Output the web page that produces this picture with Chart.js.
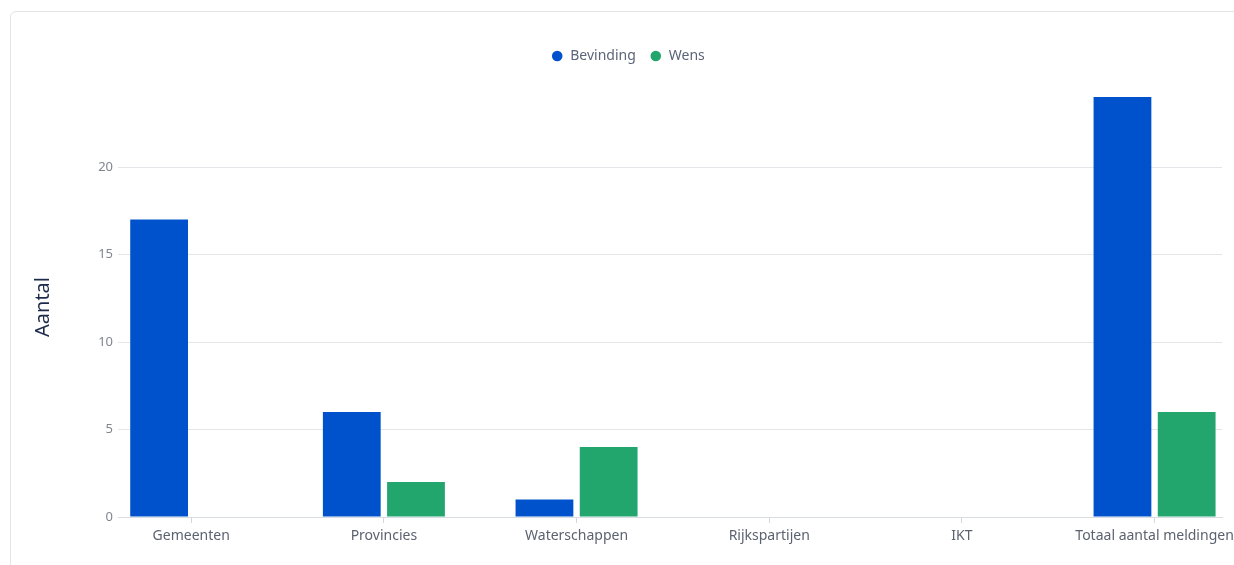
<!DOCTYPE html>
<html>
<head>
<meta charset="utf-8">
<script src="https://cdn.jsdelivr.net/npm/chart.js@4/dist/chart.umd.min.js"></script>
<style>
  html, body { margin: 0; padding: 0; background: #fff; overflow: hidden; width: 1234px; height: 565px; }
  .card { position: absolute; left: 10px; top: 11px; width: 1300px; height: 620px;
          border: 1px solid #e3e4e6; border-radius: 6px; box-sizing: border-box; }
  #chart { position: absolute; left: 0; top: 0; }
</style>
</head>
<body>
<div class="card"></div>
<canvas id="chart" width="1260" height="565"></canvas>
<script>
// Categories and series
const categories = ['Gemeenten', 'Provincies', 'Waterschappen', 'Rijkspartijen', 'IKT', 'Totaal aantal meldingen'];
const bevinding = [17, 6, 1, 0, 0, 24];
const wens = [0, 2, 4, 0, 0, 6];
const seriesNames = ['Bevinding', 'Wens'];
const seriesColors = ['#0052cc', '#22a66e'];

const FONT = "'Noto Sans', 'Open Sans', sans-serif";

// Legend sits well above the plot: pad the legend box height
const legendGap = {
    id: 'legendGap',
    beforeInit(chart) {
        const fit = chart.legend.fit;
        chart.legend.fit = function () {
            fit.bind(chart.legend)();
            this.height += 24;
        };
    }
};

const toPoints = arr => arr.map((v, i) => ({ x: i, y: v }));

new Chart(document.getElementById('chart').getContext('2d'), {
    type: 'bar',
    data: {
        datasets: [
            { label: seriesNames[0], data: toPoints(bevinding), backgroundColor: seriesColors[0], borderWidth: 0 },
            { label: seriesNames[1], data: toPoints(wens), backgroundColor: seriesColors[1], borderWidth: 0 }
        ]
    },
    options: {
        responsive: false,
        animation: false,
        categoryPercentage: 0.6665,
        barPercentage: 0.9,
        layout: { padding: { top: 35, right: 38, left: 34, bottom: 0 } },
        plugins: {
            tooltip: { enabled: false },
            legend: {
                position: 'top',
                labels: {
                    usePointStyle: true,
                    pointStyle: 'circle',
                    boxWidth: 12,
                    boxHeight: 7.5,
                    padding: 14,
                    color: '#5b6478',
                    font: { family: FONT, size: 14 }
                }
            }
        },
        scales: {
            x: {
                type: 'linear',
                position: 'bottom',
                offset: false,
                min: -0.38,
                max: 5.35,
                afterFit(s) { s.height = 48; },
                grid: { offset: false, drawOnChartArea: false, drawTicks: true, tickLength: 6, color: '#d3d7de' },
                border: { display: true, color: '#d8dce3' },
                ticks: {
                    stepSize: 1,
                    includeBounds: false,
                    autoSkip: false,
                    maxRotation: 0,
                    padding: 5,
                    color: '#5b6270',
                    font: { family: FONT, size: 14 },
                    callback: v => categories[v] ?? ''
                }
            },
            y: {
                min: 0,
                max: 24,
                afterFit(s) { s.width = 84; },
                grid: { color: '#e4e6ea', drawTicks: false },
                border: { display: false },
                ticks: {
                    stepSize: 5,
                    includeBounds: false,
                    padding: 5,
                    color: '#80858f',
                    font: { family: FONT, size: 13 }
                },
                title: {
                    display: true,
                    text: 'Aantal',
                    color: '#1d2b4b',
                    padding: 0,
                    font: { family: FONT, size: 20, lineHeight: 0.9 }
                }
            }
        }
    },
    plugins: [legendGap]
});
</script>
</body>
</html>
